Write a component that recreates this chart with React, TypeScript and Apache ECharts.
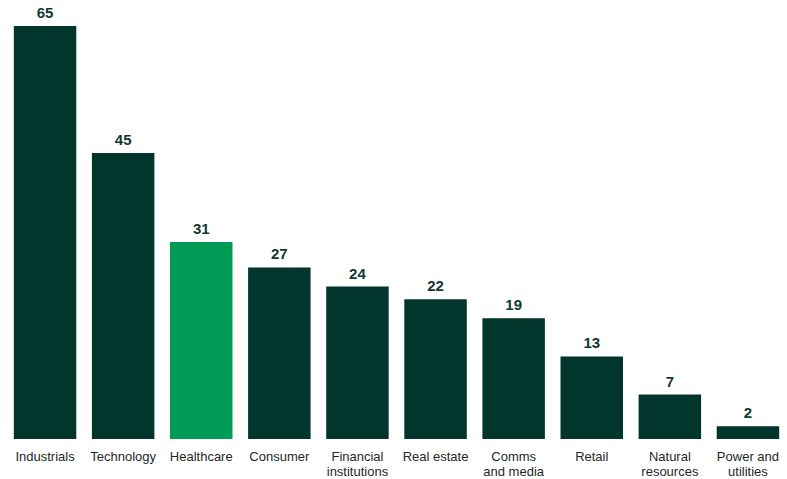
import React, { useEffect, useRef } from "react";
import * as echarts from "echarts";

const categories = [
  "Industrials",
  "Technology",
  "Healthcare",
  "Consumer",
  "Financial\ninstitutions",
  "Real estate",
  "Comms\nand media",
  "Retail",
  "Natural\nresources",
  "Power and\nutilities",
];
const values = [65, 45, 31, 27, 24, 22, 19, 13, 7, 2];
const highlightIndex = 2;

const DARK = "#02352B";
const GREEN = "#019B55";

export default function App() {
  const ref = useRef<HTMLDivElement>(null);
  useEffect(() => {
    if (!ref.current) return;
    const chart = echarts.init(ref.current, null, { renderer: "svg" });
    chart.setOption({
      animation: false,
      backgroundColor: "#ffffff",
      grid: { left: 6, width: 790, top: 26, bottom: 37, containLabel: false },
      xAxis: {
        type: "category",
        data: categories,
        axisLine: { show: false },
        axisTick: { show: false },
        axisLabel: {
          interval: 0,
          margin: 10,
          fontFamily: "Liberation Sans, Arial, sans-serif",
          fontSize: 13,
          lineHeight: 15,
          color: "#1c2a26",
        },
      },
      yAxis: {
        type: "value",
        min: 0,
        max: 65,
        show: false,
        splitLine: { show: false },
      },
      series: [
        {
          type: "bar",
          barCategoryGap: "20%",
          data: values.map((v, i) => ({
            value: v,
            itemStyle: { color: i === highlightIndex ? GREEN : DARK },
          })),
          label: {
            show: true,
            position: "top",
            distance: 6,
            fontFamily: "Liberation Sans, Arial, sans-serif",
            fontWeight: "bold",
            fontSize: 15,
            color: "#0f3a30",
          },
        },
      ],
    });
    return () => chart.dispose();
  }, []);
  return (
    <div
      ref={ref}
      style={{ position: "fixed", left: 0, top: 0, width: 787, height: 479 }}
    />
  );
}
